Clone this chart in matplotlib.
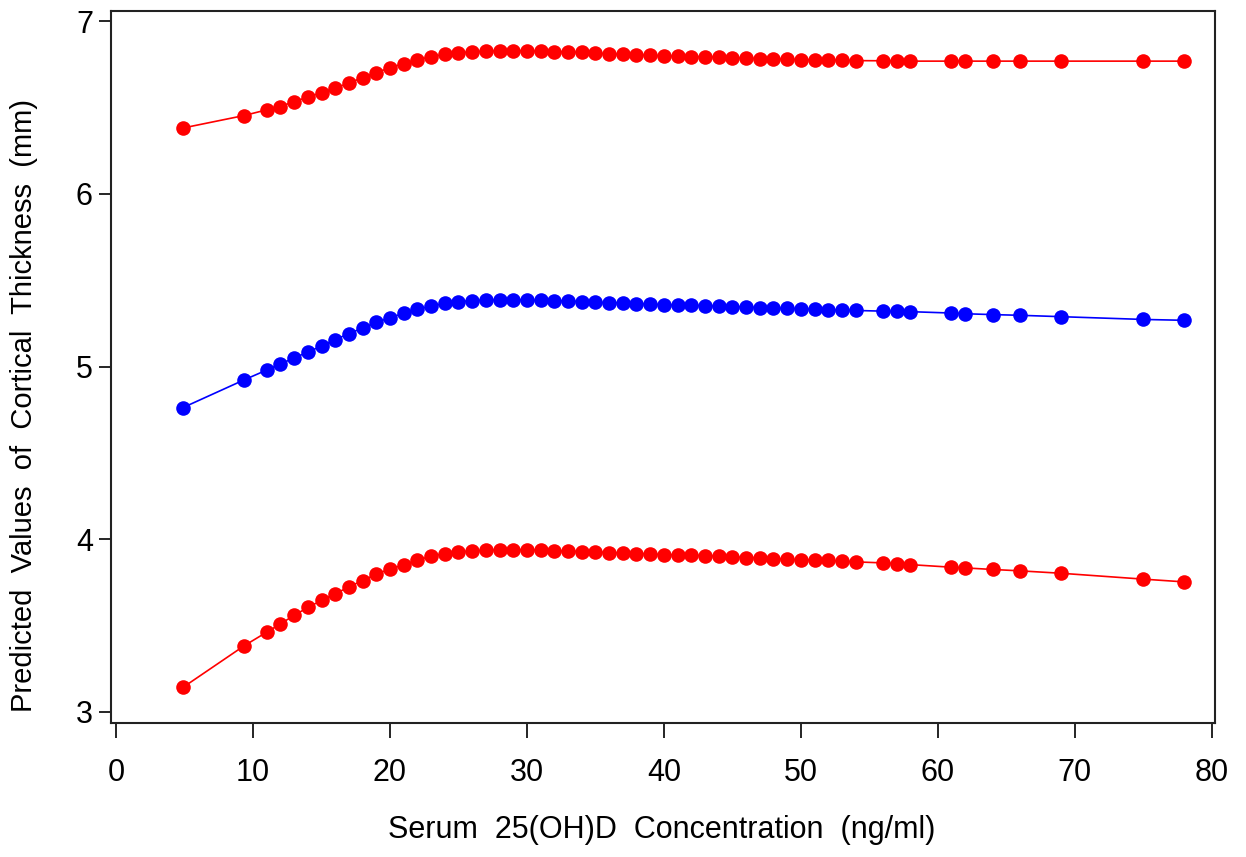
import matplotlib
matplotlib.use("Agg")
import matplotlib.pyplot as plt

# serum 25(OH)D concentration (ng/ml)
conc = [4.9, 9.35] + list(range(11, 55)) + [56, 57, 58, 61, 62, 64, 66, 69, 75, 78]

upper = [6.382, 6.454, 6.487, 6.506, 6.535, 6.560, 6.587, 6.614, 6.641, 6.674,
         6.703, 6.730, 6.755, 6.778, 6.794, 6.809, 6.817, 6.823, 6.827, 6.828,
         6.830, 6.828, 6.826, 6.824, 6.823, 6.819, 6.815, 6.811, 6.809, 6.805,
         6.803, 6.799, 6.797, 6.795, 6.794, 6.792, 6.788, 6.786, 6.784, 6.782,
         6.780, 6.778, 6.776, 6.776, 6.774, 6.772, 6.771, 6.769, 6.769, 6.769,
         6.769, 6.769, 6.769, 6.769, 6.769, 6.769]

predicted = [4.763, 4.923, 4.980, 5.015, 5.050, 5.084, 5.119, 5.156, 5.191, 5.223,
             5.256, 5.283, 5.308, 5.333, 5.350, 5.366, 5.376, 5.382, 5.385, 5.386,
             5.387, 5.385, 5.383, 5.382, 5.380, 5.376, 5.372, 5.370, 5.368, 5.364,
             5.362, 5.358, 5.356, 5.354, 5.353, 5.349, 5.347, 5.345, 5.341, 5.339,
             5.337, 5.335, 5.331, 5.329, 5.327, 5.325, 5.321, 5.319, 5.318, 5.310,
             5.306, 5.301, 5.297, 5.289, 5.273, 5.268]

lower = [3.143, 3.383, 3.462, 3.510, 3.559, 3.605, 3.646, 3.684, 3.724, 3.761,
         3.798, 3.827, 3.852, 3.879, 3.902, 3.917, 3.927, 3.932, 3.936, 3.938,
         3.938, 3.940, 3.936, 3.933, 3.931, 3.929, 3.927, 3.923, 3.919, 3.917,
         3.915, 3.911, 3.909, 3.908, 3.904, 3.902, 3.898, 3.894, 3.892, 3.888,
         3.884, 3.881, 3.879, 3.877, 3.873, 3.869, 3.863, 3.859, 3.853, 3.838,
         3.834, 3.825, 3.817, 3.803, 3.769, 3.753]

x_ticks = [0, 10, 20, 30, 40, 50, 60, 70, 80]
y_ticks = [3, 4, 5, 6, 7]

plt.rcParams["font.family"] = ["Liberation Sans Narrow", "Liberation Sans", "DejaVu Sans"]

fig = plt.figure(figsize=(12.46, 8.57), dpi=100)
ax = fig.add_axes([0.0891, 0.1564, 0.886, 0.8311])

for ys, color in [(upper, "#ff0000"), (predicted, "#0000ff"), (lower, "#ff0000")]:
    ax.plot(conc, ys, color=color, lw=1.2, marker="o", ms=10.5,
            markeredgewidth=0, zorder=3)

ax.set_xlim(-0.37, 80.24)
ax.set_ylim(2.936, 7.061)
ax.set_xticks(x_ticks)
ax.set_yticks(y_ticks)
ax.tick_params(axis="x", length=11, width=1.2, pad=14, labelsize=22)
ax.tick_params(axis="y", length=9, width=1.2, pad=4, labelsize=22)
for s in ax.spines.values():
    s.set_linewidth(1.5)
    s.set_color("#222222")

fig.text(0.531, 0.031, "Serum  25(OH)D  Concentration  (ng/ml)",
         fontsize=22, ha="center", va="center")
fig.text(0.0193, 0.527, "Predicted  Values  of  Cortical  Thickness  (mm)",
         fontsize=21, rotation=90, ha="center", va="center")

fig.savefig("out.png", dpi=100)
